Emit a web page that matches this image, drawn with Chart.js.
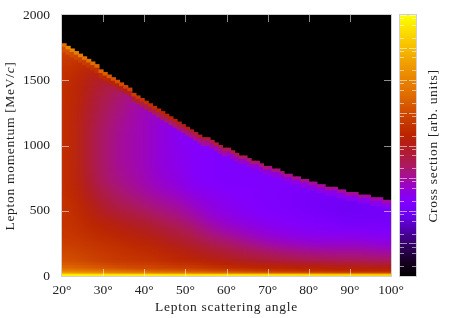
<!DOCTYPE html>
<html>
<head>
<meta charset="utf-8">
<style>
  html, body { margin: 0; padding: 0; background: #fff; }
  #wrap { position: relative; width: 475px; height: 318px; }
  canvas { position: absolute; top: 0; }
</style>
<script src="https://cdn.jsdelivr.net/npm/chart.js@4"></script>
</head>
<body>
<svg width="0" height="0" style="position:absolute"><filter id="hblur" x="-5%" width="110%" color-interpolation-filters="sRGB"><feGaussianBlur stdDeviation="6 0"/></filter></svg>
<div id="wrap">
  <canvas id="mapChart" width="475" height="318" style="left:0;width:475px;height:318px"></canvas>
  <canvas id="barChart" width="79" height="318" style="left:396px;width:79px;height:318px"></canvas>
</div>
<script>
// x ticks, y ticks
const angleTicks = [20, 30, 40, 50, 60, 70, 80, 90, 100];
const momentumTicks = [0, 500, 1000, 1500, 2000];

// left edge of each table column (deg), 2.5 deg wide
const angleColumns = [20, 22.5, 25, 27.5, 30, 32.5, 35, 37.5, 40, 42.5, 45, 47.5, 50, 52.5, 55, 57.5,
  60, 62.5, 65, 67.5, 70, 72.5, 75, 77.5, 80, 82.5, 85, 87.5, 90, 92.5, 95, 97.5];

// bottom edge of each table row (MeV/c), last one is the top of the last row
const momentumRows = [0, 10, 20, 30, 40, 50, 60, 80, 100, 120, 140, 160, 180, 200, 240, 280, 320, 360, 400,
  450, 500, 550, 600, 650, 700, 800, 900, 1000, 1100, 1200, 1300, 1400, 1500, 1600, 1700, 1800];

// palette position (0-100 along the colour bar), one line per momentum row
const crossSection = [
  [98,98,98,97,97,97,97,97,97,97,96,96,96,96,96,96,96,96,95,95,95,95,95,94,94,94,93,93,93,93,92,92],
  [87,86,85,84,84,83,83,82,82,81,81,80,80,79,79,78,78,78,77,77,77,76,76,75,75,75,74,74,74,74,73,73],
  [80,79,78,77,75,74,73,72,72,71,71,70,70,69,68,67,67,66,65,64,64,63,63,62,62,62,61,61,60,60,60,60],
  [75,74,73,72,71,70,69,68,68,67,66,65,65,64,63,62,62,61,60,59,59,58,58,57,57,57,56,56,56,55,55,55],
  [72,71,70,69,68,67,66,65,65,64,64,63,63,62,61,60,59,59,58,57,57,56,56,55,55,55,54,54,54,54,54,54],
  [70,69,68,67,66,65,64,63,63,62,62,61,61,60,59,58,57,57,56,55,55,55,54,54,54,54,53,53,53,53,52,52],
  [68,67,66,65,64,63,62,62,62,61,60,59,59,58,57,56,55,55,54,53,53,53,52,52,52,52,51,51,51,51,50,50],
  [66,65,64,63,62,61,61,60,60,59,58,57,57,56,55,54,53,52,52,51,51,50,50,49,49,49,48,48,48,48,47,47],
  [65,64,63,62,61,60,60,59,59,58,57,56,56,55,54,53,52,51,50,49,49,48,48,47,47,47,46,46,46,46,45,45],
  [64,63,62,61,60,59,59,58,58,57,56,55,54,53,52,51,51,50,49,48,47,46,46,45,45,45,44,44,44,43,43,42],
  [63,62,61,60,59,58,58,57,57,56,55,54,53,52,51,50,49,48,47,46,45,44,43,43,42,42,41,41,41,41,40,40],
  [63,62,61,60,59,58,57,56,56,55,54,53,52,51,49,48,47,46,45,44,43,42,41,41,40,40,39,39,39,39,38,38],
  [62,61,60,59,58,58,57,56,56,55,53,52,51,49,48,47,46,44,43,42,41,40,39,38,37,37,37,37,37,37,36,36],
  [61,60,59,58,58,57,56,55,55,53,52,51,50,48,47,45,44,42,41,39,38,37,36,36,35,35,35,35,35,35,34,34],
  [60,59,58,57,57,56,55,54,54,52,50,49,48,46,44,42,41,39,38,36,35,34,34,33,33,33,33,33,33,33,32,32],
  [59,58,57,56,55,54,53,52,51,50,48,47,46,43,41,39,38,36,35,34,33,33,32,31,31,31,31,31,31,31,30,30],
  [59,58,56,55,54,53,52,51,50,49,47,46,44,41,39,37,36,35,34,33,32,31,31,30,30,30,29,29,29,29,28,28],
  [58,57,55,54,53,52,51,50,49,47,45,44,42,39,37,35,34,33,32,31,31,30,30,29,29,28,28,27,27,27,27,27],
  [58,57,55,53,52,50,49,48,46,44,43,41,39,37,35,34,33,32,31,30,30,29,29,28,28,27,27,26,26,26,26,26],
  [58,56,54,51,49,47,46,45,43,42,40,39,37,35,33,32,31,30,30,29,29,28,28,27,27,26,26,25,25,25,25,25],
  [58,55,53,50,47,45,44,42,40,39,38,37,35,34,32,32,31,30,29,29,28,28,27,27,26,25,25,24,24,25,25,26],
  [58,55,52,49,46,44,42,41,39,38,37,36,34,33,32,31,30,29,29,28,28,28,27,27,26,26,25,25,25,26,27,28],
  [57,54,50,47,44,42,40,39,37,36,35,34,32,31,30,30,29,29,29,28,28,28,27,27,26,26,27,27,27,28,29],
  [57,54,50,46,43,41,39,38,36,35,34,33,31,30,30,29,29,29,29,28,28,28,27,27,27,27,28,29],
  [57,53,49,44,41,39,38,37,35,34,33,32,30,29,29,28,28,28,28,28,28,28,29,30,30,31],
  [57,53,48,43,41,38,37,36,35,33,32,31,30,29,29,28,28,28,28,28,29,29],
  [57,53,48,43,41,38,37,36,35,33,32,31,30,29,29,28,28,29,30],
  [57,53,48,43,41,38,37,36,35,33,32,30,29,29,30,30],
  [57,53,48,44,41,39,37,36,35,33,32,30,31],
  [57,53,49,45,42,40,38,36,35,35,35],
  [57,54,50,46,44,41,39,37,38],
  [57,54,51,48,46,44,43],
  [58,55,53,51,50,50],
  [59,58,57,57],
  [62,66]
];

// kinematic edge, per degree from 20 to 99: top of the filled region (MeV/c)
const edgeAngles = [20,21,22,23,24,25,26,27,28,29,30,31,32,33,34,35,36,37,38,39,40,41,42,43,44,45,46,47,48,49,
  50,51,52,53,54,55,56,57,58,59,60,61,62,63,64,65,66,67,68,69,70,71,72,73,74,75,76,77,78,79,
  80,81,82,83,84,85,86,87,88,89,90,91,92,93,94,95,96,97,98,99];
const edgeMomentum = [1780,1760,1740,1720,1700,1680,1660,1640,1620,1580,1560,1540,1520,1500,1480,1460,1440,1400,1380,1360,
  1340,1320,1300,1280,1260,1240,1220,1200,1180,1160,1140,1120,1100,1080,1060,1060,1040,1020,1000,980,
  980,960,940,920,920,900,880,880,860,840,840,820,820,800,780,780,760,760,740,740,
  720,720,700,700,680,680,680,660,660,640,640,640,620,620,620,600,600,600,580,580];
// top bin along the edge and the band just under it
const edgeLevel = [70,76,75,74,73,72,71,70,69,68,67,66,65,64,63,62,61,60,59,58,
  57,56,56,55,54,53,53,52,51,50,50,49,49,48,48,47,47,46,46,45,
  45,44,44,43,43,42,42,41,41,41,40,40,40,40,39,39,39,39,39,39,
  38,38,38,38,38,38,38,38,38,38,38,38,38,37,37,37,37,37,37,37];
const underEdgeLevel = [64,64,63,62,61,60,59,58,57,56,55,54,53,52,51,50,49,48,47,46,
  45,45,44,43,43,42,42,41,41,40,40,39,39,38,38,37,37,36,36,36,
  35,35,35,34,34,34,33,33,33,33,33,33,33,32,32,32,32,32,32,32,
  32,32,32,32,31,31,31,31,31,31,31,31,31,31,31,31,31,31,31,31];

// colour bar: decades of the log axis and its minor ticks
const barDecades = [1, 10, 100, 1000, 10000, 100000, 1000000, 10000000, 100000000];
const barMinor = [2, 5, 8];

// palette stops [position, r, g, b]
const paletteStops = [
  [0, 0, 0, 0], [6, 24, 0, 36], [13, 55, 0, 110], [20, 90, 0, 200], [24, 110, 0, 245], [29, 130, 0, 255],
  [33, 145, 0, 220], [37, 163, 10, 165], [42, 170, 25, 100], [50, 178, 30, 30], [54, 186, 36, 0],
  [60, 200, 60, 0], [70, 225, 110, 0], [80, 238, 150, 0], [90, 250, 200, 0], [100, 255, 255, 0]
];

function levelColor(v) {
  let i = 1;
  while (i < paletteStops.length - 1 && paletteStops[i][0] < v) i++;
  const a = paletteStops[i - 1], b = paletteStops[i];
  const t = (v - a[0]) / (b[0] - a[0]);
  const c = [1, 2, 3].map(k => Math.round(a[k] + (b[k] - a[k]) * t));
  return 'rgb(' + c.join(',') + ')';
}

const PLOT_W = 329;
const FONT = 'Liberation Serif';
const TEXT = '#222';
const TICK = 'rgba(255,255,255,0.55)';
const TITLE_SIZE = '13.5px "' + FONT + '"';

function spacedText(ctx, x, y, angle, parts) {
  ctx.save();
  ctx.translate(x, y);
  ctx.rotate(angle);
  ctx.fillStyle = TEXT;
  ctx.textBaseline = 'alphabetic';
  ctx.textAlign = 'left';
  ctx.letterSpacing = '0.7px';
  let w = 0;
  parts.forEach(p => { ctx.font = p[1] + TITLE_SIZE; p[2] = ctx.measureText(p[0]).width; w += p[2]; });
  let pos = -w / 2;
  parts.forEach(p => { ctx.font = p[1] + TITLE_SIZE; ctx.fillText(p[0], pos, 0); pos += p[2]; });
  ctx.restore();
}

// first dataset is painted last
const edgeBar = {
  data: edgeAngles.map((a, i) => ({ x: a + 0.5, y: [edgeMomentum[i] - 20, edgeMomentum[i]] })),
  backgroundColor: edgeLevel.map(levelColor),
  barThickness: PLOT_W / 80
};
const underEdgeBar = {
  data: edgeAngles.map((a, i) => ({ x: a + 0.5, y: [edgeMomentum[i] - 60, edgeMomentum[i] - 20] })),
  backgroundColor: underEdgeLevel.map(levelColor),
  barThickness: PLOT_W / 80
};
const blackBar = {
  data: edgeAngles.map((a, i) => ({ x: a + 0.5, y: [edgeMomentum[i], 2000] })),
  backgroundColor: '#000',
  barThickness: PLOT_W / 80
};
const rowBars = crossSection.map((row, r) => ({
  data: row.map((v, c) => ({ x: angleColumns[c] + 1.25, y: [momentumRows[r], momentumRows[r + 1]] })),
  backgroundColor: row.map(levelColor),
  barThickness: PLOT_W / 32
}));
const FIRST_ROW = 3;

// soften the table cells: the reference map is finer than the table
function softenCells(chart, filter) {
  const { ctx, canvas, chartArea: a } = chart;
  const w = a.right - a.left, h = a.bottom - a.top;
  ctx.save();
  ctx.beginPath();
  ctx.rect(a.left, a.top, w, h);
  ctx.clip();
  ctx.filter = filter;
  ctx.drawImage(canvas, a.left, a.top, w, h, a.left, a.top, w, h);
  ctx.restore();
}

const smoothMap = {
  id: 'smoothMap',
  afterDatasetDraw(chart, args) {
    // row 8 starts at 100 MeV/c, below that the rows are too thin for a round blur
    if (args.index === FIRST_ROW + 8) softenCells(chart, 'blur(6px)');
    if (args.index === FIRST_ROW) softenCells(chart, 'url(#hblur)');
  }
};

const insideTicks = {
  id: 'insideTicks',
  afterDatasetsDraw(chart) {
    const { ctx, chartArea: a, scales: { x, y } } = chart;
    ctx.save();
    ctx.strokeStyle = TICK;
    ctx.lineWidth = 1;
    ctx.beginPath();
    angleTicks.forEach(t => {
      const px = Math.round(x.getPixelForValue(t)) + 0.5;
      if (t > 20 && t < 100) {
        ctx.moveTo(px, a.bottom); ctx.lineTo(px, a.bottom - 7);
        ctx.moveTo(px, a.top); ctx.lineTo(px, a.top + 7);
      }
    });
    momentumTicks.forEach(t => {
      const py = Math.round(y.getPixelForValue(t)) + 0.5;
      if (t > 0 && t < 2000) {
        ctx.moveTo(a.left, py); ctx.lineTo(a.left + 7, py);
        ctx.moveTo(a.right, py); ctx.lineTo(a.right - 7, py);
      }
    });
    ctx.stroke();
    ctx.strokeStyle = 'rgba(150,150,150,0.45)';
    ctx.strokeRect(a.left - 0.5, a.top - 0.5, a.right - a.left + 1, a.bottom - a.top + 1);
    ctx.restore();

    spacedText(ctx, 226.5, 311, 0, [['Lepton scattering angle', '']]);
    // y title needs an italic c, so it goes in pieces
    spacedText(ctx, 14, 146, -Math.PI / 2, [['Lepton momentum [MeV/', ''], ['c', 'italic '], [']', '']]);
  }
};

new Chart(document.getElementById('mapChart'), {
  type: 'bar',
  data: { datasets: [edgeBar, underEdgeBar, blackBar].concat(rowBars) },
  options: {
    responsive: false,
    animation: false,
    events: [],
    layout: { padding: { top: 15, right: 84, left: 0, bottom: 0 } },
    datasets: { bar: { grouped: false, inflateAmount: 0.5, borderWidth: 0 } },
    plugins: { legend: { display: false }, tooltip: { enabled: false } },
    scales: {
      x: {
        type: 'linear', min: 20, max: 100, offset: false,
        grid: { display: false, drawTicks: false, offset: false },
        border: { display: false },
        afterBuildTicks: s => { s.ticks = angleTicks.map(v => ({ value: v })); },
        afterFit: s => { s.height = 42; s.paddingLeft = 0; s.paddingRight = 0; },
        ticks: {
          autoSkip: false, maxRotation: 0, padding: 6, color: TEXT,
          font: { family: FONT, size: 13.5 },
          callback: v => v + '°'
        }
      },
      y: {
        type: 'linear', min: 0, max: 2000,
        grid: { display: false, drawTicks: false },
        border: { display: false },
        afterBuildTicks: s => { s.ticks = momentumTicks.map(v => ({ value: v })); },
        afterFit: s => { s.width = 62; s.paddingTop = 0; s.paddingBottom = 0; },
        ticks: { padding: 12, color: TEXT, font: { family: FONT, size: 13.5 }, callback: v => String(v) }
      }
    }
  },
  plugins: [smoothMap, insideTicks]
});

// colour bar, one band per palette step
const barLevels = Array.from({ length: 100 }, (_, i) => i);

const barTicks = {
  id: 'barTicks',
  afterDatasetsDraw(chart) {
    const { ctx, chartArea: a, scales: { y } } = chart;
    ctx.save();
    ctx.strokeStyle = TICK;
    ctx.beginPath();
    barDecades.forEach(d => {
      const py = Math.round(y.getPixelForValue(d)) + 0.5;
      ctx.moveTo(a.left, py); ctx.lineTo(a.left + 7, py);
      ctx.moveTo(a.right, py); ctx.lineTo(a.right - 7, py);
      if (d < 100000000) barMinor.forEach(m => {
        const pm = Math.round(y.getPixelForValue(d * m)) + 0.5;
        ctx.moveTo(a.left, pm); ctx.lineTo(a.left + 4, pm);
        ctx.moveTo(a.right, pm); ctx.lineTo(a.right - 4, pm);
      });
    });
    ctx.stroke();
    ctx.strokeStyle = 'rgba(150,150,150,0.45)';
    ctx.strokeRect(a.left - 0.5, a.top - 0.5, a.right - a.left + 1, a.bottom - a.top + 1);
    ctx.restore();

    spacedText(ctx, 41, 146, -Math.PI / 2, [['Cross section [arb. units]', '']]);
  }
};

new Chart(document.getElementById('barChart'), {
  type: 'bar',
  data: {
    datasets: [{
      data: barLevels.map(v => ({ x: 0, y: [Math.pow(10, v * 0.08), Math.pow(10, (v + 1) * 0.08)] })),
      backgroundColor: barLevels.map(v => levelColor(v + 0.5)),
      categoryPercentage: 1, barPercentage: 1, barThickness: 16
    }]
  },
  options: {
    responsive: false,
    animation: false,
    events: [],
    layout: { padding: { top: 15, left: 4, right: 59, bottom: 42 } },
    datasets: { bar: { grouped: false, inflateAmount: 0.5, borderWidth: 0 } },
    plugins: { legend: { display: false }, tooltip: { enabled: false } },
    scales: {
      x: { type: 'linear', min: -1, max: 1, offset: false, display: false },
      y: { type: 'logarithmic', min: 1, max: 100000000, display: false }
    }
  },
  plugins: [barTicks]
});
</script>
</body>
</html>
